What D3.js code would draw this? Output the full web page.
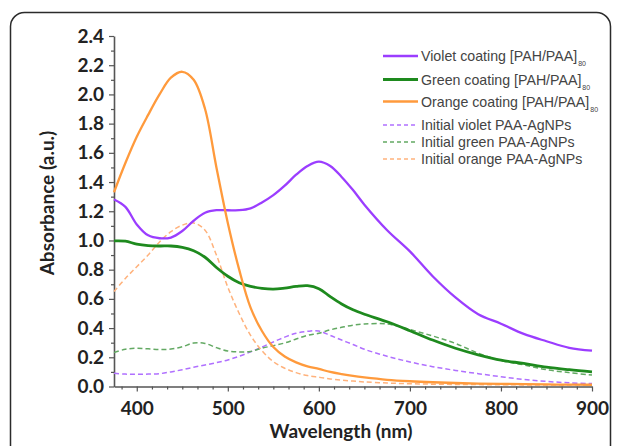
<!DOCTYPE html>
<html><head><meta charset="utf-8">
<script src="https://cdn.jsdelivr.net/npm/d3@7"></script>
<style>body{margin:0;background:#fff} svg{display:block}</style>
</head><body><svg id="c" width="622" height="446"></svg>
<script>
const wavelengths = [375,387.5,400,412.5,425,437.5,450,462.5,475,487.5,500,512.5,525,537.5,550,562.5,575,587.5,600,612.5,625,637.5,650,675,700,725,750,775,800,825,850,875,900];
const violetCoating = [1.28,1.23,1.11,1.035,1.015,1.02,1.065,1.135,1.19,1.207,1.207,1.207,1.22,1.26,1.31,1.375,1.45,1.51,1.54,1.51,1.435,1.345,1.245,1.07,0.925,0.755,0.61,0.495,0.43,0.36,0.31,0.265,0.245];
const greenCoating = [0.997,0.995,0.975,0.965,0.962,0.962,0.953,0.93,0.885,0.815,0.755,0.71,0.685,0.672,0.667,0.674,0.685,0.69,0.67,0.615,0.565,0.525,0.495,0.443,0.382,0.318,0.262,0.217,0.18,0.158,0.133,0.115,0.10];
const orangeCoating = [1.33,1.53,1.71,1.86,2.0,2.115,2.155,2.10,1.90,1.50,1.12,0.80,0.54,0.38,0.27,0.205,0.165,0.138,0.12,0.10,0.085,0.072,0.062,0.046,0.036,0.029,0.024,0.020,0.018,0.016,0.014,0.013,0.012];
const violetInitial = [0.09,0.085,0.083,0.085,0.088,0.10,0.115,0.132,0.147,0.163,0.182,0.207,0.237,0.27,0.305,0.338,0.365,0.378,0.38,0.35,0.318,0.288,0.255,0.207,0.168,0.136,0.11,0.088,0.067,0.048,0.035,0.025,0.02];
const greenInitial = [0.232,0.255,0.262,0.258,0.253,0.256,0.272,0.298,0.295,0.266,0.243,0.237,0.24,0.262,0.28,0.298,0.325,0.35,0.365,0.388,0.405,0.42,0.428,0.428,0.39,0.346,0.295,0.228,0.178,0.148,0.115,0.095,0.078];
const orangeInitial = [0.65,0.74,0.82,0.90,0.99,1.06,1.105,1.12,1.07,0.90,0.68,0.50,0.35,0.245,0.17,0.125,0.095,0.075,0.063,0.052,0.044,0.037,0.031,0.024,0.019,0.016,0.014,0.013,0.012,0.011,0.010,0.010,0.010];
const xTickValues = [400,500,600,700,800,900];
const yTickValues = [0,0.2,0.4,0.6,0.8,1.0,1.2,1.4,1.6,1.8,2.0,2.2,2.4];
const seriesNames = ["Violet coating [PAH/PAA]","Green coating [PAH/PAA]","Orange coating [PAH/PAA]","Initial violet PAA-AgNPs","Initial green PAA-AgNPs","Initial orange PAA-AgNPs"];
const seriesSubs = ["80","80","80","","",""];
const seriesColors = ["#9b3dff","#1e8a1e","#ff9a3c","#b070ff","#63a963","#ffb27c"];
const seriesDashed = [false,false,false,true,true,true];
const seriesValues = [violetCoating,greenCoating,orangeCoating,violetInitial,greenInitial,orangeInitial];

const svg = d3.select('#c');
const x = d3.scaleLinear().domain([375,900]).range([114,592]);
const y = d3.scaleLinear().domain([0,2.4]).range([386.5,36]);

// frame
svg.append('rect').attr('x',10.5).attr('y',12.5).attr('width',600).attr('height',470)
  .attr('rx',14).attr('fill','none').attr('stroke','#2b2b2b').attr('stroke-width',1.5);

const axisColor = '#555';
const tickFont = 'Lato, "Open Sans", sans-serif';

// x minor ticks
const xMinor = d3.range(0,32).map(k => 400 - 100/6 + k*100/6).filter(v => v <= 900.01 && !xTickValues.some(t => Math.abs(t-v)<0.5));
const gxm = svg.append('g').attr('transform',`translate(0,${y(0)})`)
  .call(d3.axisBottom(x).tickValues(xMinor).tickSize(3).tickFormat(''));
gxm.select('.domain').remove();
gxm.selectAll('line').attr('stroke',axisColor).attr('stroke-width',1.2);

const gx = svg.append('g').attr('transform',`translate(0,${y(0)})`)
  .call(d3.axisBottom(x).tickValues(xTickValues).tickSize(5).tickPadding(10).tickSizeOuter(0).tickFormat(d3.format('d')));
gx.select('.domain').attr('stroke',axisColor).attr('stroke-width',1.6);
gx.selectAll('line').attr('stroke',axisColor).attr('stroke-width',1.2);
gx.selectAll('text').attr('font-family',tickFont).attr('font-weight',700).attr('font-size',19).attr('fill','#222');

// y minor
const yMinor = d3.range(0,12).map(k => 0.1 + k*0.2);
const gym = svg.append('g').attr('transform',`translate(${x(375)},0)`)
  .call(d3.axisLeft(y).tickValues(yMinor).tickSize(3).tickFormat(''));
gym.select('.domain').remove();
gym.selectAll('line').attr('stroke',axisColor).attr('stroke-width',1.2);

const gy = svg.append('g').attr('transform',`translate(${x(375)},0)`)
  .call(d3.axisLeft(y).tickValues(yTickValues).tickSize(5).tickPadding(5).tickSizeOuter(0).tickFormat(d3.format('.1f')));
gy.select('.domain').attr('stroke',axisColor).attr('stroke-width',1.6);
gy.selectAll('line').attr('stroke',axisColor).attr('stroke-width',1.2);
gy.selectAll('text').attr('font-family',tickFont).attr('font-weight',700).attr('font-size',19).attr('fill','#222');

// axis titles
svg.append('text').attr('x',341).attr('y',438).attr('text-anchor','middle')
  .attr('font-family',tickFont).attr('font-weight',700).attr('font-size',19).attr('fill','#222')
  .text('Wavelength (nm)');
svg.append('text').attr('transform','translate(54,203) rotate(-90)').attr('text-anchor','middle')
  .attr('font-family',tickFont).attr('font-weight',700).attr('font-size',19).attr('fill','#222')
  .text('Absorbance (a.u.)');

// lines
const line = d3.line().x(d => x(d[0])).y(d => y(d[1])).curve(d3.curveCatmullRom.alpha(0.5));
const order = [3,4,5,1,0,2];
order.forEach(i => {
  const pts = wavelengths.map((w,j) => [w, seriesValues[i][j]]);
  svg.append('path').datum(pts).attr('d',line).attr('fill','none')
    .attr('stroke',seriesColors[i])
    .attr('stroke-width',seriesDashed[i] ? 1.5 : (i===1 ? 2.8 : 2.3))
    .attr('stroke-dasharray',seriesDashed[i] ? '5,3' : null);
});

// legend
const legendY = [56,79.5,101.5,125,142,159];
const lg = svg.append('g');
seriesNames.forEach((name,i) => {
  lg.append('line').attr('x1',383).attr('x2',418).attr('y1',legendY[i]).attr('y2',legendY[i])
    .attr('stroke',seriesColors[i]).attr('stroke-width',seriesDashed[i] ? 1.5 : (i===1 ? 2.8 : 2.3))
    .attr('stroke-dasharray',seriesDashed[i] ? '4,3' : null);
  const t = lg.append('text').attr('x',421).attr('y',legendY[i]+5)
    .attr('font-family','"Liberation Sans", Arial, sans-serif').attr('font-size',14.2).attr('fill','#444')
    .text(name);
  if (seriesSubs[i]) {
    t.append('tspan').attr('dy',5).attr('dx',1).attr('font-size',7).text(seriesSubs[i]);
  }
});
</script></body></html>
